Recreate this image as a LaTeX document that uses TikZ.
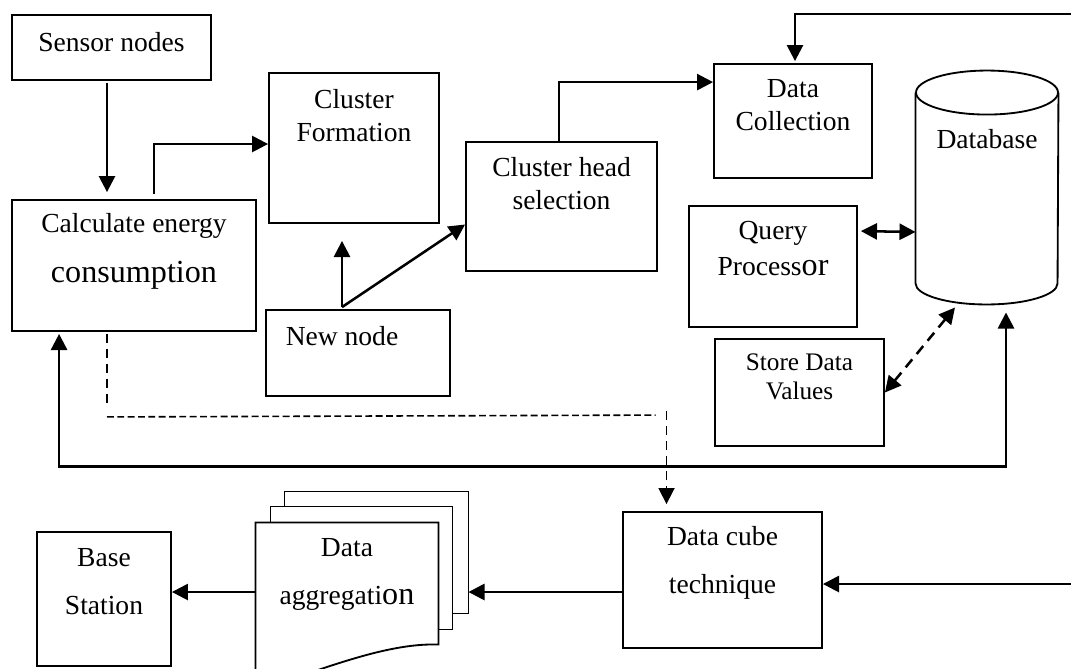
\documentclass[tikz,border=0pt]{standalone}
\usepackage{fontspec}
\setmainfont{Liberation Serif}
\usetikzlibrary{arrows.meta, calc}
\newlength{\pxu}
\setlength{\pxu}{0.0153cm}

\begin{document}
\begin{tikzpicture}[x=\pxu, y=-\pxu, font=\fontsize{12}{14.5}\selectfont,
    box/.style={draw, line width=0.8pt, inner sep=0pt},
    sz/.style 2 args={minimum width=#1*\pxu, minimum height=#2*\pxu},
    txt/.style={anchor=north, align=center, inner sep=0pt, yshift=-16*\pxu},
    ln/.style={line width=0.8pt},
    arr/.style={line width=1.1pt, -{Triangle[length=7pt, width=7pt]}},
    arrs/.style={line width=1.1pt, {Triangle[length=7pt, width=7pt]}-{Triangle[length=7pt, width=7pt]}},
    dl/.style={line width=0.7pt, dash pattern=on 4pt off 2.5pt},
    ds/.style={line width=0.7pt, dash pattern=on 3pt off 1.5pt},
  ]
  \useasboundingbox (0,0) rectangle (1071,668);

  % clustering side
  \node[box, sz={199}{65}, label={[txt, yshift=-2*\pxu]north:Sensor nodes}] (sensor) at (111.5,47.5) {};
  \node[box, sz={244}{131}, label={[txt, yshift=2*\pxu]north:Calculate energy\\[7pt]{\fontsize{14}{17}\selectfont consumption}}] (calc) at (134,265.5) {};
  \node[box, sz={170}{150}, label={[txt, yshift=-1*\pxu]north:Cluster\\Formation}] (clform) at (354,148) {};
  \node[box, sz={184}{86}, label={[txt, xshift=-16*\pxu, yshift=-1*\pxu]north:New node}] (newnd) at (358,353) {};
  \node[box, sz={191}{129}, label={[txt]north:Cluster head\\selection}] (chead) at (561.5,206.5) {};

  % data side
  \node[box, sz={158}{114}, label={[txt]north:Data\\Collection}] (dcoll) at (793,121) {};
  \node[box, sz={168}{121}, label={[txt]north:Query\\[1pt]Process{\fontsize{14}{17}\selectfont or}}] (query) at (773,266.5) {};
  \node[box, sz={169}{107}, label={[txt, font=\fontsize{11}{12.7}\selectfont, yshift=1*\pxu]north:Store Data\\Values}] (store) at (799.5,392.5) {};

  % database cylinder
  \node[sz={142}{233}, label={[txt, yshift=-42*\pxu]north:Database}] (db) at (987,187.5) {};
  \draw[ln] ($(db.north)+(0,22)$) ellipse [x radius=71*\pxu, y radius=22*\pxu];
  \draw[ln] ($(db.north west)+(0,22)$) -- ($(db.south west)+(0,-21)$)
    arc [start angle=180, end angle=360, x radius=71*\pxu, y radius=21*\pxu]
    -- ($(db.north east)+(0,22)$);

  % output side
  \node[box, sz={199}{136}, label={[txt, yshift=1*\pxu]north:Data cube\\[6.5pt]technique}] (dcube) at (722.5,580) {};
  \node[box, sz={134}{134}, label={[txt, yshift=-1*\pxu]north:Base\\[6.5pt]Station}] (base) at (104,599) {};

  % stacked documents
  \node[sz={182}{138}, label={[txt, yshift=1*\pxu]north:Data\\[6.5pt]aggregati{\fontsize{14}{17}\selectfont on}}] (agg) at (347,592) {};
  \draw[ln] ($(agg.north west)+(29,-16)$) |- ($(agg.north east)+(30,-31)$) |- ($(agg.north east)+(14,91)$);
  \draw[ln] ($(agg.north west)+(15,0)$) |- ($(agg.north east)+(14,-16)$) |- ($(agg.north east)+(0,107)$);
  \draw[ln] (agg.north west) -- (agg.north east) -- ($(agg.north east)+(0,122)$)
    .. controls ($(agg.north east)+(-55,120)$) and ($(agg.north west)+(60,150)$) .. ($(agg.north west)+(0,168)$) -- cycle;

  % links
  \draw[arr] ($(sensor.south)+(-4.5,2)$) -- ($(calc.north)+(-27,-7)$);
  \draw[arr] ($(calc.north)+(20,-5)$) |- ($(clform.west)+(0,-4)$);
  \coordinate (nn) at ($(newnd.north)+(-16,-2)$);
  \draw[arr] (nn) -- ($(clform.south)+(-12,17)$);
  \draw[arr] (nn) -- ($(chead.west)+(0,18)$);
  \draw[arr] ($(chead.north)+(-2.5,0)$) |- ($(dcoll.north west)+(0,19)$);
  \coordinate (fb) at (1071,14);
  \draw[arr] (fb) -| ($(dcoll.north)+(2,-2)$);

  \draw[arrs] ($(query.north east)+(3,26)$) -- ($(db.west)+(0,44.5)$);
  \draw[arrs, dash pattern=on 4.5pt off 3pt] (store.east) -- ($(db.south)+(-32,3)$);
  \draw[arrs] ($(db.south)+(19,8)$) -- ++(0,154) -| ($(calc.south west)+(48,2)$);

  % dashed path down to the cube
  \coordinate (dk) at ($(calc.south)+(-27,85)$);
  \draw[dl] ($(calc.south)+(-27,2)$) -- ($(calc.south)+(-27,74)$);
  \draw[ds] (dk) -- ($(dcube.north)+(-67,-96)$);
  \draw[dl, -{Triangle[length=7pt, width=7pt]}] ($(dcube.north)+(-56,-100)$) -- ($(dcube.north)+(-56,-7)$);

  \coordinate (feed) at (1071,584);
  \draw[arr] (feed) -- (feed -| dcube.east);
  \coordinate (back) at ($(agg.east)+(30,0)$);
  \draw[arr] (dcube.west |- agg.west) -- (back);
  \draw[arr] (agg.west) -- (agg.west -| base.east);
\end{tikzpicture}
\end{document}
